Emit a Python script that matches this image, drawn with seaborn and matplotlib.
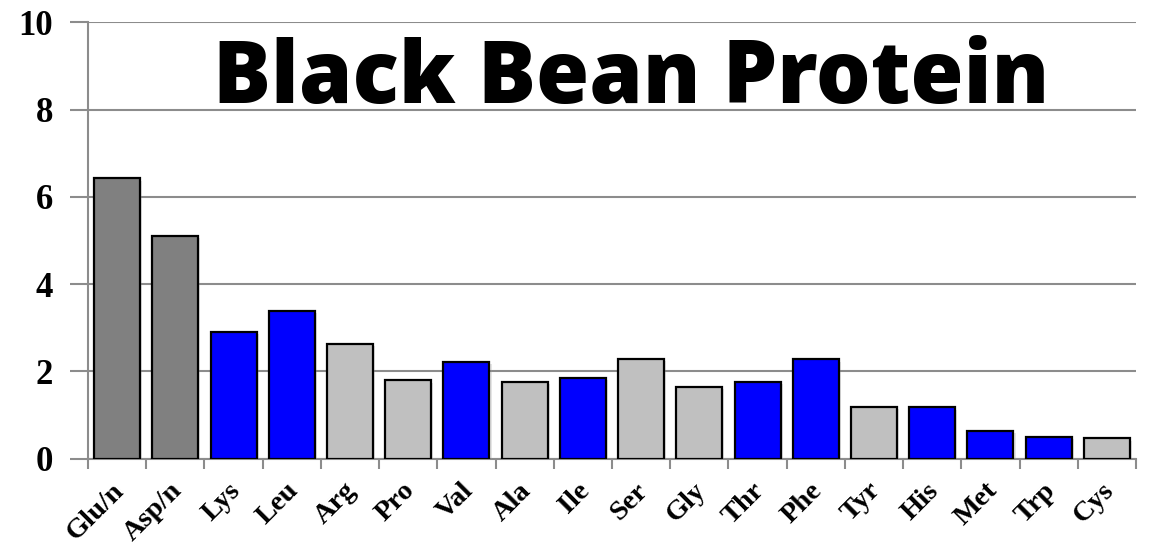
import matplotlib
matplotlib.use("Agg")
import matplotlib.pyplot as plt
import matplotlib.patheffects as pe
from matplotlib.transforms import ScaledTranslation
import seaborn as sns
import pandas as pd
import numpy as np

# Amino acid content of black bean protein
amino_acids = ["Glu/n", "Asp/n", "Lys", "Leu", "Arg", "Pro", "Val", "Ala", "Ile",
               "Ser", "Gly", "Thr", "Phe", "Tyr", "His", "Met", "Trp", "Cys"]
amounts = [6.42, 5.10, 2.91, 3.39, 2.62, 1.79, 2.21, 1.76, 1.85,
           2.28, 1.63, 1.76, 2.27, 1.18, 1.17, 0.63, 0.49, 0.46]
groups = ["acidic", "acidic", "essential", "essential", "other", "other", "essential",
          "other", "essential", "other", "other", "essential", "essential", "other",
          "essential", "essential", "essential", "other"]
group_colors = {"acidic": "#808080", "essential": "#0000FF", "other": "#C0C0C0"}
y_ticks = [0, 2, 4, 6, 8, 10]

df = pd.DataFrame({"aa": amino_acids, "amount": amounts, "group": groups})

sns.set_theme(style="white")
plt.rcParams["text.color"] = "black"
plt.rcParams["xtick.color"] = "black"
plt.rcParams["ytick.color"] = "black"

fig = plt.figure(figsize=(11.58, 5.46), dpi=100)
ax = fig.add_axes([88 / 1158, 1 - 458.5 / 546, (1136 - 88) / 1158, (458.5 - 22.3) / 546])

sns.barplot(data=df, x="aa", y="amount", hue="group", palette=group_colors,
            dodge=False, width=0.79, saturation=1, edgecolor="black", linewidth=1.6,
            legend=False, ax=ax, zorder=3)

# soft drop shadow under each bar
for bar in ax.patches:
    bar.set_path_effects([pe.SimplePatchShadow(offset=(1.5, -1.5), shadow_rgbFace="#999999",
                                               alpha=0.25), pe.Normal()])

ax.set_ylim(0, 10)
ax.set_xlim(-0.5, len(amino_acids) - 0.5)
ax.set_xlabel("")
ax.set_ylabel("")

grid_col = "#8c8c8c"
ax.set_yticks(y_ticks)
ax.set_yticklabels([str(t) for t in y_ticks], family="Liberation Serif",
                   fontweight="bold", fontsize=25, color="black")
ax.yaxis.grid(True, color=grid_col, linewidth=1.5, zorder=0)
ax.tick_params(axis="y", which="major", left=True, length=13, width=1.5,
               color=grid_col, pad=12)

# Category labels at bar centres, tick marks on category boundaries
ax.set_xticks(np.arange(len(amino_acids)))
ax.set_xticklabels(amino_acids, rotation=45, ha="right", rotation_mode="anchor",
                   family="Liberation Serif", fontweight="bold", fontsize=20.5,
                   color="black")
ax.tick_params(axis="x", which="major", bottom=False, pad=8)
shift = ScaledTranslation(-6 / 100, 0, fig.dpi_scale_trans)
for lbl in ax.get_xticklabels():
    lbl.set_transform(lbl.get_transform() + shift)
ax.set_xticks(np.arange(len(amino_acids) + 1) - 0.5, minor=True)
ax.tick_params(axis="x", which="minor", bottom=True, length=7, width=1.5,
               color=grid_col)

for side in ["top", "right"]:
    ax.spines[side].set_visible(False)
for side in ["left", "bottom"]:
    ax.spines[side].set_color(grid_col)
    ax.spines[side].set_linewidth(1.5)

fig.text(631 / 1158, 1 - 103 / 546, "Black Bean Protein", ha="center",
         va="baseline", family="Open Sans", fontweight="heavy", fontsize=62,
         color="black")

fig.savefig("out.png", dpi=100, facecolor="white")
